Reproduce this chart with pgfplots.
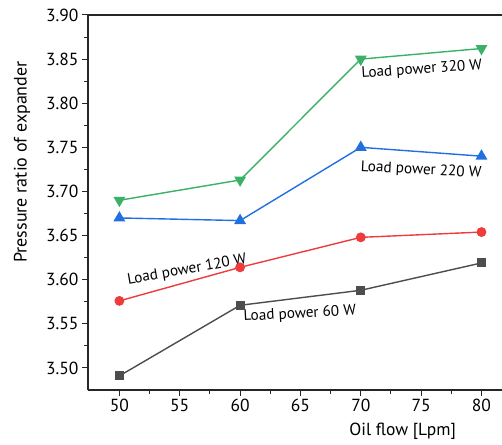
\documentclass[border=0pt]{standalone}
\usepackage{fontspec}
\setmainfont{PT Sans}
\usepackage{pgfplots}
\pgfplotsset{compat=1.18}

\definecolor{c320}{RGB}{58,176,104}
\definecolor{c220}{RGB}{32,112,224}
\definecolor{c120}{RGB}{238,60,60}
\definecolor{c60}{RGB}{77,77,77}

\begin{document}
\begin{tikzpicture}
\useasboundingbox (-88pt,-54pt) rectangle (414pt,390pt);
\begin{axis}[
    at={(0,0)}, anchor=south west,
    scale only axis,
    width=414pt, height=375pt,
    xmin=47.4, xmax=81.7,
    ymin=3.475, ymax=3.90,
    axis x line=box, axis y line=left,
    x axis line style={-}, y axis line style={-},
    axis line style={line width=1.1pt, black!85},
    xtick={50,55,...,80},
    ytick={3.50,3.55,...,3.90},
    minor x tick num=1, minor y tick num=1,
    xtick pos=bottom, ytick pos=left,
    tick align=outside,
    major tick length=6pt, minor tick length=3.5pt,
    every tick/.style={black!85, line width=1pt},
    /pgf/number format/assume math mode=true,
    yticklabel style={/pgf/number format/fixed, /pgf/number format/fixed zerofill, /pgf/number format/precision=2},
    ticklabel style={font=\fontsize{17.5}{19}\selectfont},
    xlabel={Oil flow [Lpm]},
    ylabel={Pressure ratio of expander},
    every axis x label/.style={at={(axis description cs:0.76,-0.111)}, anchor=center, font=\fontsize{17.5}{19}\selectfont},
    every axis y label/.style={at={(axis description cs:-0.159,0.608)}, rotate=90, anchor=center, font=\fontsize{18}{20}\selectfont},
    clip=false,
  ]
  \addplot[c320, line width=1.4pt, mark=triangle*, mark size=5.5pt, mark options={rotate=180}] coordinates {
    (50,3.690) (60,3.713) (70,3.850) (80,3.862)
  };
  \addplot[c220, line width=1.4pt, mark=triangle*, mark size=5.5pt] coordinates {
    (50,3.670) (60,3.667) (70,3.750) (80,3.740)
  };
  \addplot[c120, line width=1.4pt, mark=*, mark size=4.2pt] coordinates {
    (50,3.576) (60,3.614) (70,3.648) (80,3.654)
  };
  \addplot[c60, line width=1.4pt, mark=square*, mark size=3.8pt] coordinates {
    (50,3.491) (60,3.571) (70,3.588) (80,3.619)
  };
  \node[rotate=4, font=\fontsize{15.2}{17}\selectfont] at (axis cs:75.05,3.838) {Load power 320 W};
  \node[rotate=-3, font=\fontsize{15.2}{17}\selectfont] at (axis cs:75.0,3.724) {Load power 220 W};
  \node[rotate=10, font=\fontsize{15.2}{17}\selectfont] at (axis cs:55.6,3.611) {Load power 120 W};
  \node[rotate=3, font=\fontsize{15.2}{17}\selectfont] at (axis cs:64.95,3.561) {Load power 60 W};
\end{axis}
\end{tikzpicture}
\end{document}
